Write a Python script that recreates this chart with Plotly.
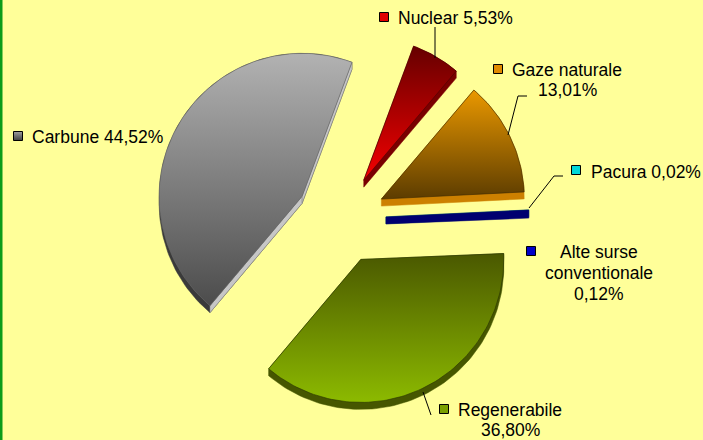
import math
import plotly.graph_objects as go

categories = ["Nuclear", "Gaze naturale", "Pacura", "Alte surse conventionale", "Regenerabile", "Carbune"]
shares = [5.53, 13.01, 0.02, 0.12, 36.80, 44.52]
label_lines = [["Nuclear 5,53%"], ["Gaze naturale", "13,01%"], ["Pacura 0,02%"],
               ["Alte surse", "conventionale", "0,12%"], ["Regenerabile", "36,80%"], ["Carbune 44,52%"]]

W, H = 703, 440
CX, CY = 341, 219
R, PULL, DEPTH = 143, 45, 7
START = 20.4
LINE_STEP = 20.7

# top colour, bottom colour, side colour, outline
STYLE = {
    "Nuclear": ("#660000", "#f40000", "#7a0000", "#4a0000"),
    "Gaze naturale": ("#ea9800", "#5c3c00", "#cc8000", "#3a2800"),
    "Pacura": ("#00cccc", "#006666", "#006060", "#003030"),
    "Alte surse conventionale": ("#0000cc", "#000066", "#000070", "#000040"),
    "Regenerabile": ("#4a5800", "#8cba00", "#465600", "#2a3500"),
    "Carbune": ("#b2b2b2", "#4c4c4c", "#3a3a3a", "#6a6a6a"),
}
KEYS = {
    "Nuclear": ("#e00000", (384, 17), (396, 18), "left"),
    "Gaze naturale": ("#e08a00", (498, 69), (567, 80), "center"),
    "Pacura": ("#00d8d8", (576, 170), (588.5, 172), "left"),
    "Alte surse conventionale": ("#0000c8", (531, 251), (599, 273), "center"),
    "Regenerabile": ("#7aa000", (444, 409), (510, 420), "center"),
    "Carbune": ("#a0a0a0", (18, 136), (29.5, 137), "left"),
}
LEADERS = [
    [(435, 27), (435, 58)],
    [(527, 96), (518, 96), (508, 135)],
    [(563, 176), (554, 176), (529, 208)],
    [(423, 392), (431, 415)],
]


def hull(points):
    pts = sorted(set(points))
    def half(seq):
        out = []
        for p in seq:
            while len(out) > 1 and ((out[-1][0]-out[-2][0])*(p[1]-out[-2][1])
                                    - (out[-1][1]-out[-2][1])*(p[0]-out[-2][0])) <= 0:
                out.pop()
            out.append(p)
        return out
    lo, up = half(pts), half(pts[::-1])
    return lo[:-1] + up[:-1]


def poly(points, color, line=None, width=0.0, gradient=None):
    xs = [p[0] for p in points] + [points[0][0]]
    ys = [p[1] for p in points] + [points[0][1]]
    kw = {"fillgradient": gradient} if gradient else {"fillcolor": color}
    return go.Scatter(x=xs, y=ys, mode="lines", fill="toself",
                      line=dict(color=line or color, width=width),
                      hoverinfo="skip", showlegend=False, **kw)


fig = go.Figure()
total = sum(shares)
theta = START
for name, share in zip(categories, shares):
    sweep = share / total * 360
    mid = math.radians(theta + sweep / 2)
    ax = CX + PULL * math.sin(mid)
    ay = CY - PULL * math.cos(mid)
    n = max(2, int(sweep / 1.5) + 2)
    arc = []
    for i in range(n):
        t = math.radians(theta + sweep * i / (n - 1))
        arc.append((ax + R * math.sin(t), ay - R * math.cos(t)))
    top = [(ax, ay)] + arc
    low = [(x, y + DEPTH) for x, y in top]
    c_top, c_bot, c_side, c_line = STYLE[name]
    fig.add_trace(poly(hull(top + low), c_side, line=c_side, width=0.5))
    if name == "Carbune":
        for end in (arc[0], arc[-1]):
            quad = [(ax, ay), end, (end[0], end[1] + DEPTH), (ax, ay + DEPTH)]
            fig.add_trace(poly(quad, "#c6c6c6", line="#8a8a8a", width=0.5))
    if share >= 1:
        fig.add_trace(poly(top, c_top, line=c_line, width=0.6, gradient=dict(
            type="vertical", colorscale=[[0, c_bot], [1, c_top]])))
    theta += sweep

for name, lines in zip(categories, label_lines):
    color, key, pos, align = KEYS[name]
    fig.add_trace(go.Scatter(
        x=[key[0]], y=[key[1]], mode="markers", hoverinfo="skip", showlegend=False,
        marker=dict(symbol="square", size=9, color=color,
                    gradient=dict(type="vertical", color="#404040" if name == "Carbune" else color),
                    line=dict(color="#000000", width=1))))
    for i, text in enumerate(lines):
        fig.add_annotation(x=pos[0], y=pos[1] + (i - (len(lines) - 1) / 2) * LINE_STEP,
                           text=text, showarrow=False, align=align,
                           xanchor=align, yanchor="middle", xref="x", yref="y",
                           font=dict(family="Liberation Sans", size=17.5, color="#000000"))

for seg in LEADERS:
    path = "M" + " L".join(f"{x},{y}" for x, y in seg)
    fig.add_shape(type="path", path=path, xref="x", yref="y", line=dict(color="#000000", width=1))
fig.add_shape(type="line", xref="x", yref="y", x0=1.25, x1=1.25, y0=0, y1=H,
              line=dict(color="#0C9C18", width=2.5))

fig.update_layout(
    width=W, height=H, margin=dict(l=0, r=0, t=0, b=0),
    paper_bgcolor="#FFFF99", plot_bgcolor="#FFFF99", showlegend=False,
    xaxis=dict(range=[0, W], visible=False, fixedrange=True),
    yaxis=dict(range=[H, 0], visible=False, fixedrange=True),
)
fig.write_html("out.html", config={"displayModeBar": False},
               post_script="document.body.style.margin='0';document.body.style.overflow='hidden';document.body.style.background='#FFFF99';")
